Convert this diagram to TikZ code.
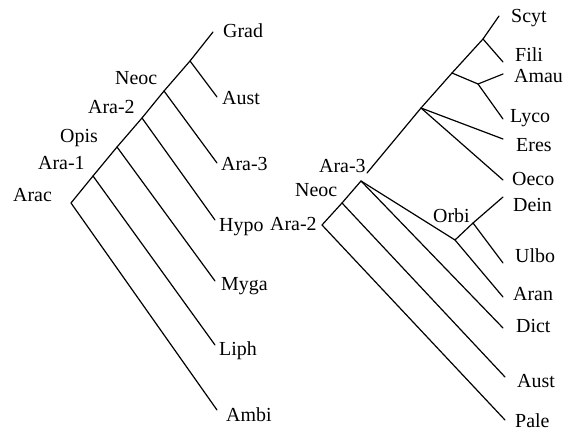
\documentclass[tikz,border=0pt]{standalone}
\usepackage{fontspec}
\setmainfont{Liberation Serif}
\tikzset{
  branch/.style={line width=1.2bp, line cap=round, line join=round},
  lbl/.style={anchor=base west, inner sep=0pt, font=\fontsize{20}{24}\selectfont}
}
\begin{document}
\begin{tikzpicture}[x=1bp,y=-1bp]
\useasboundingbox (0,0) rectangle (567,433);
\clip (0,0) rectangle (567,433);

% ---------- left cladogram ----------
\coordinate (arac) at (71,203);
\coordinate (ara1) at (93,176);
\coordinate (opis) at (117,147);
\coordinate (ara2) at (142,118);
\coordinate (neoc) at (164,91);
\coordinate (nga)  at (190,61);
\coordinate (tGrad) at (213,32);
\coordinate (tAust) at (217,97);
\coordinate (tAra3) at (217,163);
\coordinate (tHypo) at (215,220);
\coordinate (tMyga) at (215,281);
\coordinate (tLiph) at (215,345);
\coordinate (tAmbi) at (217,410);

\draw[branch] (arac) -- (ara1) -- (opis) -- (ara2) -- (neoc) -- (nga) -- (tGrad);
\draw[branch] (nga) -- (tAust);
\draw[branch] (neoc) -- (tAra3);
\draw[branch] (ara2) -- (tHypo);
\draw[branch] (opis) -- (tMyga);
\draw[branch] (ara1) -- (tLiph);
\draw[branch] (arac) -- (tAmbi);

\node[lbl] (lGrad) at (223,38) {Grad};
\node[lbl] (lAust) at (222,105) {Aust};
\node[lbl] (lAra3) at (221,171) {Ara-3};
\node[lbl] (lHypo) at (219,232) {Hypo};
\node[lbl] (lMyga) at (221,290) {Myga};
\node[lbl] (lLiph) at (219,355) {Liph};
\node[lbl] (lAmbi) at (226,421) {Ambi};
\node[lbl] (lNeoc) at (115,85) {Neoc};
\node[lbl] (lAra2) at (88,114) {Ara-2};
\node[lbl] (lOpis) at (60,143) {Opis};
\node[lbl] (lAra1) at (38,170) {Ara-1};
\node[lbl] (lArac) at (13,202) {Arac};

% ---------- right cladogram ----------
\coordinate (rara2) at (322,225);
\coordinate (rneoc) at (342,203);
\coordinate (rara3) at (361,181);
\coordinate (rara3top) at (367,173);
\coordinate (rer) at (421,108);
\coordinate (ram) at (452,73);
\coordinate (rfi) at (483,39);
\coordinate (ramly) at (478,84);
\coordinate (rar) at (455,240);
\coordinate (rorbi) at (473,223);
\coordinate (tScyt) at (499,16);
\coordinate (tFili) at (503,62);
\coordinate (tAmau) at (503,74);
\coordinate (tLyco) at (503,119);
\coordinate (tEres) at (503,139);
\coordinate (tOeco) at (503,180);
\coordinate (tDein) at (503,197);
\coordinate (tUlbo) at (503,263);
\coordinate (tAran) at (503,297);
\coordinate (tDict) at (503,328);
\coordinate (tRAust) at (505,377);
\coordinate (tPale) at (505,420);

\draw[branch] (rara2) -- (rneoc) -- (rara3);
\draw[branch] (rara3top) -- (rer) -- (ram) -- (rfi) -- (tScyt);
\draw[branch] (rfi) -- (tFili);
\draw[branch] (ram) -- (ramly) -- (tAmau);
\draw[branch] (ramly) -- (tLyco);
\draw[branch] (rer) -- (tEres);
\draw[branch] (rer) -- (tOeco);
\draw[branch] (rara3) -- (rar) -- (rorbi) -- (tDein);
\draw[branch] (rorbi) -- (tUlbo);
\draw[branch] (rar) -- (tAran);
\draw[branch] (rara3) -- (tDict);
\draw[branch] (rneoc) -- (tRAust);
\draw[branch] (rara2) -- (tPale);

\node[lbl] (lScyt) at (511,23) {Scyt};
\node[lbl] (lFili) at (515,62) {Fili};
\node[lbl] (lAmau) at (514,83) {Amau};
\node[lbl] (lLyco) at (510,123) {Lyco};
\node[lbl] (lEres) at (516,152) {Eres};
\node[lbl] (lOeco) at (512,186) {Oeco};
\node[lbl] (lDein) at (513,212) {Dein};
\node[lbl] (lUlbo) at (515,263) {Ulbo};
\node[lbl] (lAran) at (513,300) {Aran};
\node[lbl] (lDict) at (516,332) {Dict};
\node[lbl] (lRAust) at (517,387) {Aust};
\node[lbl] (lPale) at (515,427) {Pale};
\node[lbl] (lRAra3) at (319,173) {Ara-3};
\node[lbl] (lRNeoc) at (295,197) {Neoc};
\node[lbl] (lRAra2) at (270,231) {Ara-2};
\node[lbl] (lOrbi) at (433,223) {Orbi};
\end{tikzpicture}
\end{document}
